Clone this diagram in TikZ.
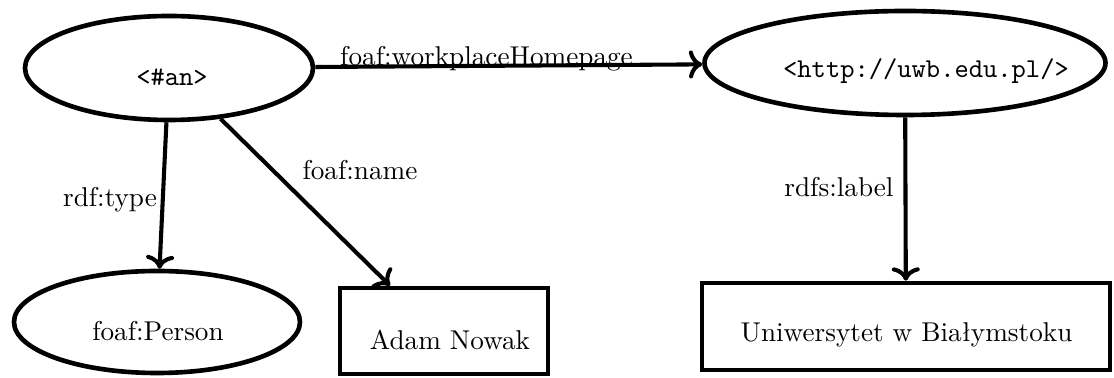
\documentclass[tikz,border=0pt]{standalone}
\usepackage{fontspec}
\usetikzlibrary{shapes.geometric,arrows.meta}
% one drawing unit = one pixel of the layout grid
\def\pxlen{0.3676pt}
\begin{document}
\begin{tikzpicture}[x=\pxlen,y=-\pxlen,
  oval/.style={draw, ellipse, line width=1.7pt, inner sep=0pt},
  lit/.style={draw, rectangle, line width=1.7pt, inner sep=0pt},
  txt/.style={anchor=base, inner sep=0pt},
  rel/.style={line width=1.5pt, ->},
]
\useasboundingbox (0,0) rectangle (1114,378);

% resources and literals
\node[oval, minimum width=288*\pxlen, minimum height=104*\pxlen] (an) at (169,68) {};
\node[txt] (antext) at (172,86) {\texttt{<\#an>}};

\node[oval, minimum width=401*\pxlen, minimum height=104*\pxlen] (uwb) at (905,63) {};
\node[txt] (uwbtext) at (926,78) {\texttt{<http://uwb.edu.pl/>}};

\node[oval, minimum width=286*\pxlen, minimum height=102*\pxlen] (person) at (157,322) {};
\node[txt] (persontext) at (158,341) {foaf:Person};

\node[lit, minimum width=208*\pxlen, minimum height=86*\pxlen] (adam) at (444,331) {};
\node[txt] (adamtext) at (450,350) {Adam Nowak};

\node[lit, minimum width=408*\pxlen, minimum height=87*\pxlen] (uwbname) at (906,326.5) {};
\node[txt] (uwbnametext) at (906.5,342) {Uniwersytet w Białymstoku};

% properties
\draw[rel] (an) -- (uwb);
\draw[rel] (an) -- (person);
\draw[rel] (an) -- ([xshift=-54*\pxlen]adam.north);
\draw[rel] (uwb) -- (uwbname);

\node[txt] (lwork) at (486.5,66) {foaf:workplaceHomepage};
\node[txt] (ltype) at (110,207) {rdf:type};
\node[txt] (lname) at (360,180) {foaf:name};
\node[txt] (llabel) at (839,197) {rdfs:label};
\end{tikzpicture}
\end{document}
